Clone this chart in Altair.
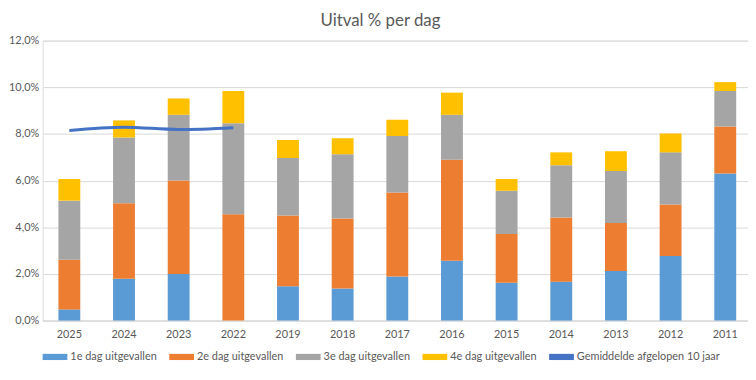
import altair as alt
import pandas as pd

years = ["2025", "2024", "2023", "2022", "2019", "2018", "2017", "2016",
         "2015", "2014", "2013", "2012", "2011"]
dag1 = [0.48, 1.79, 2.00, 0.00, 1.47, 1.37, 1.89, 2.57, 1.62, 1.67, 2.13, 2.77, 6.30]
dag2 = [2.13, 3.24, 4.00, 4.56, 3.03, 3.01, 3.60, 4.32, 2.09, 2.75, 2.05, 2.21, 2.02]
dag3 = [2.53, 2.82, 2.82, 3.90, 2.47, 2.75, 2.42, 1.93, 1.85, 2.24, 2.23, 2.23, 1.52]
dag4 = [0.93, 0.73, 0.70, 1.38, 0.77, 0.69, 0.70, 0.95, 0.51, 0.55, 0.85, 0.81, 0.38]
avg_years = ["2025", "2024", "2023", "2022"]
avg_vals = [8.15, 8.29, 8.19, 8.27]
series = ["1e dag uitgevallen", "2e dag uitgevallen", "3e dag uitgevallen", "4e dag uitgevallen"]
line_name = "Gemiddelde afgelopen 10 jaar"
colors = ["#5B9BD5", "#ED7D31", "#A5A5A5", "#FFC000", "#4472C4"]
y_ticks = [0, 2, 4, 6, 8, 10, 12]

rows = []
for idx, (name, vals) in enumerate(zip(series, [dag1, dag2, dag3, dag4])):
    for y, v in zip(years, vals):
        rows.append({"jaar": y, "reeks": name, "waarde": v, "idx": idx})
bars_df = pd.DataFrame(rows)
line_df = pd.DataFrame({"jaar": avg_years, "waarde": avg_vals, "reeks": line_name})

FONT = "Lato"
GREY = "#595959"

x_enc = alt.X("jaar:N", sort=years,
              scale=alt.Scale(domain=years, paddingInner=0.6, paddingOuter=0.2525, align=0.572),
              axis=alt.Axis(title=None, labelAngle=0, ticks=False, domainColor="#D9D9D9",
                            labelColor=GREY, labelFontSize=11, labelFont=FONT, labelPadding=8))
y_enc = alt.Y("waarde:Q", stack="zero",
              scale=alt.Scale(domain=[0, 12], nice=False),
              axis=alt.Axis(title=None, values=y_ticks, ticks=False, domain=False,
                            gridColor="#D9D9D9", labelColor=GREY, labelFontSize=11,
                            labelFont=FONT, labelPadding=4,
                            labelExpr="replace(format(datum.value, '.1f'), '.', ',') + '%'"))

legend = alt.Legend(
    title=None, orient="none", legendX=0, legendY=307, direction="horizontal",
    symbolType="M-1,-0.25H1V0.25H-1Z", symbolSize=625, symbolStrokeWidth=0,
    labelFontSize=11, labelColor=GREY, labelFont=FONT, labelLimit=300,
    columnPadding=12, labelOffset=3)

color_enc = alt.Color("reeks:N", scale=alt.Scale(domain=series + [line_name], range=colors),
                      legend=legend)

bars = alt.Chart(bars_df).mark_bar().encode(
    x=x_enc, y=y_enc, color=color_enc, order=alt.Order("idx:Q"))

line = alt.Chart(line_df).mark_line(strokeWidth=3, interpolate="monotone").encode(
    x=alt.X("jaar:N", sort=years), y=alt.Y("waarde:Q", stack=None), color=alt.Color("reeks:N"))

chart = alt.layer(bars, line).properties(
    width=713, height=283,
    padding={"left": 35, "top": 31, "right": 0, "bottom": 50},
    autosize=alt.AutoSizeParams(type="none"),
    title=alt.Title("Uitval % per dag", fontSize=17, font=FONT, color=GREY,
                    fontWeight="normal", dx=-15, offset=5),
).configure_view(stroke=None).configure(background="white")

chart.save("out.html", embed_options={"renderer": "svg", "actions": False})
